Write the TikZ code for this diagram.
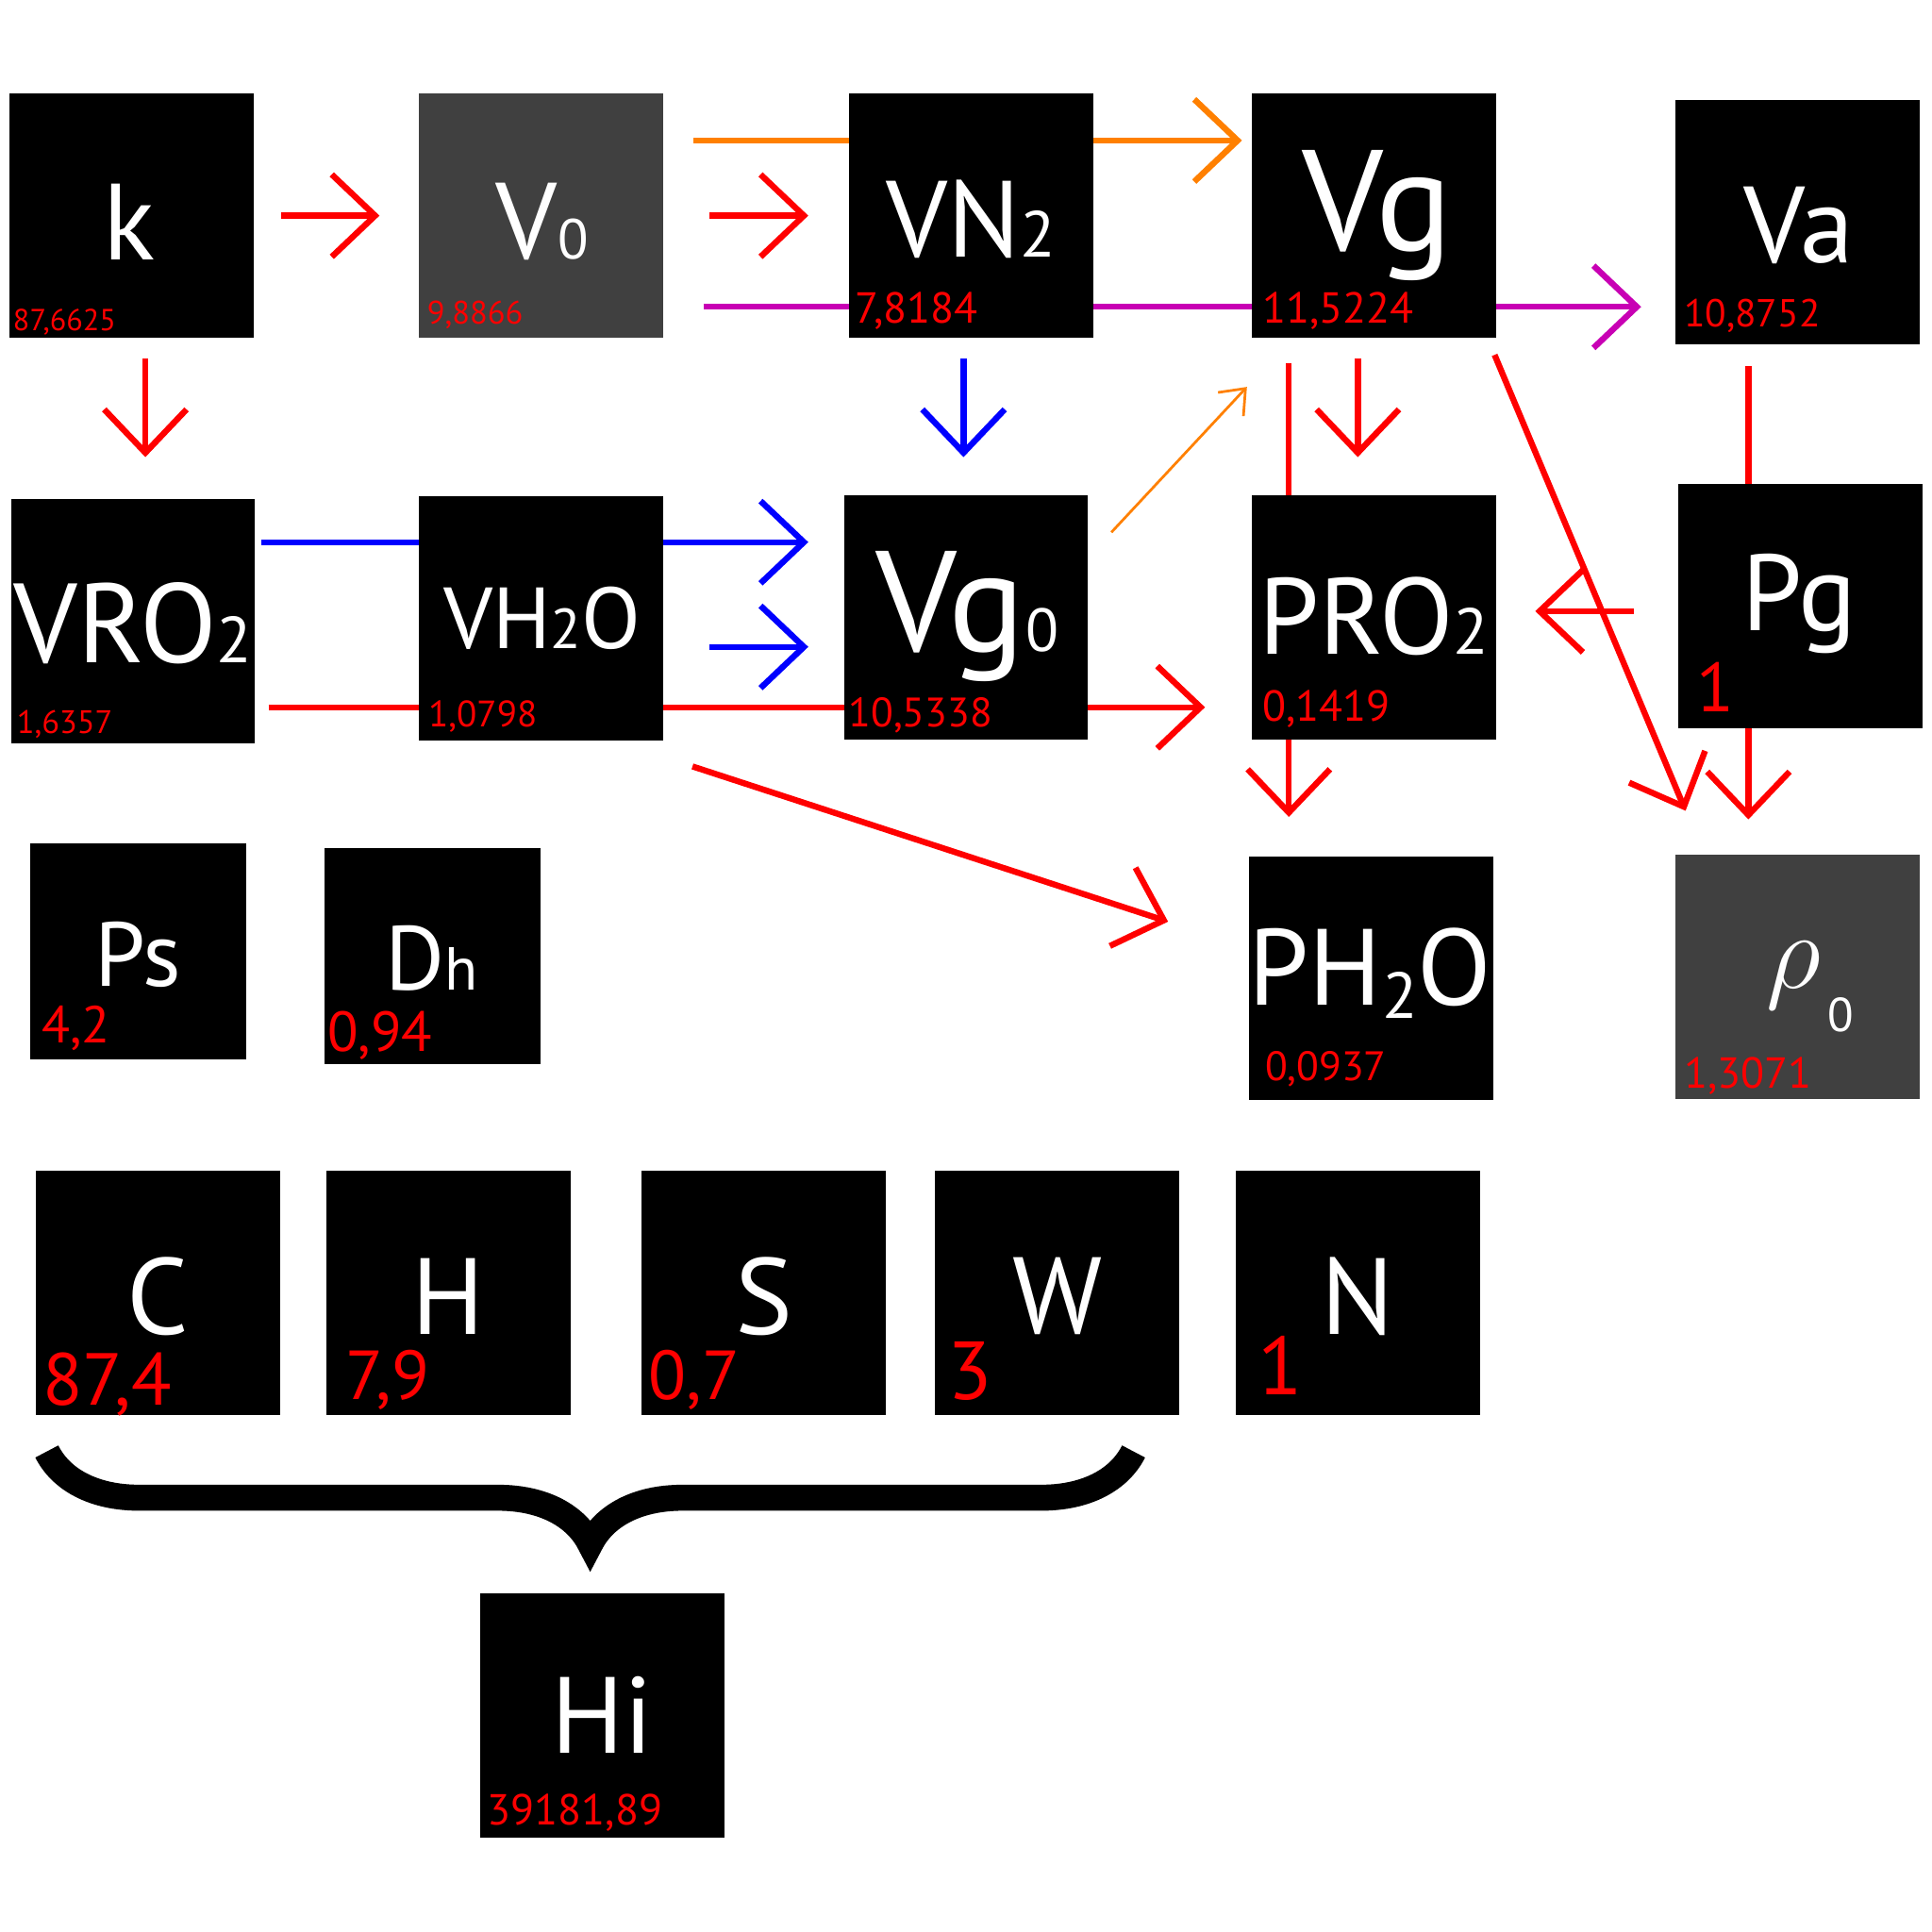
\documentclass[tikz,border=0pt]{standalone}
\usepackage{fontspec}
\setmainfont{PT Sans}
\usetikzlibrary{arrows.meta,decorations.pathreplacing}
\newcommand\fs[2]{{\fontsize{#1}{#1}\selectfont #2}}
\begin{document}
\begin{tikzpicture}[x=0.01cm,y=-0.01cm,
 box/.style={fill=black,draw=none,minimum size=1.98cm,inner sep=0pt},
 gbox/.style={box,fill=gray!50!black!90},
 lbl/.style={text=white,inner sep=0pt},
 num/.style={text=red,inner sep=0pt,anchor=base west},
 ar/.style={line width=1.4pt,-{Straight Barb[length=10pt,width=19pt,line width=1.4pt]}},
 ln/.style={line width=1.4pt}]
\useasboundingbox (0,0) rectangle (1568,1568);
% background connectors (behind boxes)
\draw[ar,orange] (563,114) -- (1008,114);
\draw[ar,color={rgb,255:red,200;green,0;blue,180}] (571,249) -- (1332,249);
\draw[ar,blue] (212,440) -- (656,440);
\draw[ar,red] (218,574) -- (978,574);
% boxes
\node[box] (k) at (107,175) {};
\node[gbox,fill={rgb,255:red,64;green,64;blue,64}] (V0) at (439,175) {};
\node[box] (VN2) at (788,175) {};
\node[box] (Vg) at (1115,175) {};
\node[box] (Va) at (1459,180) {};
\node[box] (VRO2) at (108,504) {};
\node[box] (VH2O) at (439,502) {};
\node[box] (Vg0) at (784,501) {};
\node[box] (PRO2) at (1115,501) {};
\node[box] (Pg) at (1461,492) {};
\node[box,minimum size=1.75cm] (Ps) at (112,772) {};
\node[box,minimum size=1.75cm] (Dh) at (351,776) {};
\node[box] (PH2O) at (1113,794) {};
\node[box,fill={rgb,255:red,64;green,64;blue,64}] (rho) at (1459,793) {};
\node[box] (C) at (128,1049) {};
\node[box] (H) at (364,1049) {};
\node[box] (S) at (620,1049) {};
\node[box] (W) at (858,1049) {};
\node[box] (N) at (1102,1049) {};
\node[box] (Hi) at (489,1392) {};
% labels
\node[lbl] at (105,180) {\fs{25pt}{k}};
\node[lbl] at (440,180) {\fs{25pt}{V\fs{13pt}{0}}};
\node[lbl] at (788,178) {\fs{25pt}{VN\fs{15pt}{2}}};
\node[lbl] at (1118,175) {\fs{33pt}{Vg}};
\node[lbl] at (1460,183) {\fs{25pt}{Va}};
\node[lbl] at (108,506) {\fs{26pt}{VRO\fs{15pt}{2}}};
\node[lbl] at (440,502) {\fs{20pt}{VH\fs{13pt}{2}O}};
\node[lbl] at (785,500) {\fs{33pt}{Vg\fs{14pt}{0}}};
\node[lbl] at (1115,500) {\fs{25pt}{PRO\fs{15pt}{2}}};
\node[lbl] at (1460,490) {\fs{25pt}{Pg}};
\node[lbl] at (112,775) {\fs{21pt}{Ps}};
\node[lbl] at (350,778) {\fs{21pt}{D\fs{14pt}{h}}};
\node[lbl] at (1112,790) {\fs{25pt}{PH\raisebox{-3pt}{\fs{15pt}{2}}O}};
\node[lbl] at (1456,792) {\fs{36pt}{$\rho$}};
\node[lbl] at (1494,824) {\fs{11pt}{0}};
\node[lbl] at (128,1052) {\fs{25pt}{C}};
\node[lbl] at (364,1052) {\fs{25pt}{H}};
\node[lbl] at (620,1052) {\fs{25pt}{S}};
\node[lbl] at (858,1052) {\fs{25pt}{W}};
\node[lbl] at (1102,1052) {\fs{25pt}{N}};
\node[lbl] at (489,1392) {\fs{25pt}{Hi}};
% numbers
\node[num] at (10,268) {\fs{7pt}{87,6625}};
\node[num] at (346,263) {\fs{7.5pt}{9,8866}};
\node[num] at (693,262) {\fs{10pt}{7,8184}};
\node[num] at (1024,262) {\fs{10pt}{11,5224}};
\node[num] at (1366,265) {\fs{9pt}{10,8752}};
\node[num] at (13,595) {\fs{7.5pt}{1,6357}};
\node[num] at (347,590) {\fs{8.5pt}{1,0798}};
\node[num] at (688,590) {\fs{9.5pt}{10,5338}};
\node[num] at (1024,585) {\fs{10pt}{0,1419}};
\node[num] at (1376,578) {\fs{16pt}{1}};
\node[num] at (33,846) {\fs{12pt}{4,2}};
\node[num] at (265,853) {\fs{13pt}{0,94}};
\node[num] at (1026,877) {\fs{9.5pt}{0,0937}};
\node[num] at (1366,883) {\fs{10pt}{1,3071}};
\node[num] at (34,1140) {\fs{17pt}{87,4}};
\node[num] at (280,1136) {\fs{16pt}{7,9}};
\node[num] at (526,1136) {\fs{16pt}{0,7}};
\node[num] at (768,1136) {\fs{19pt}{3}};
\node[num] at (1020,1132) {\fs{19pt}{1}};
\node[num] at (395,1481) {\fs{10pt}{39181,89}};
% foreground connectors
\draw[ar,red] (228,175) -- (308,175);
\draw[ar,red] (576,175) -- (656,175);
\draw[ar,red] (118,291) -- (118,371);
\draw[ar,blue] (782,291) -- (782,371);
\draw[ar,red] (1102,291) -- (1102,371);
\draw[ln,red] (1046,295) -- (1046,402);
\draw[orange,line width=0.6pt,-{Straight Barb[length=5pt,width=8pt]}] (902,432) -- (1012,314);
\draw[ar,blue] (576,525) -- (656,525);
\draw[ar,red] (1326,496) -- (1246,496);
\draw[ar,red] (1213,288) -- (1368,658);
\draw[ln,red] (1419,297) -- (1419,393);
\draw[ar,red] (1419,591) -- (1419,665);
\draw[ar,red] (1046,600) -- (1046,663);
\draw[ar,red] (562,622) -- (948,748);
% brace
\draw[line width=6pt,decorate,decoration={brace,mirror,amplitude=0.75cm}] (38,1178) -- (920,1178);
\end{tikzpicture}
\end{document}
